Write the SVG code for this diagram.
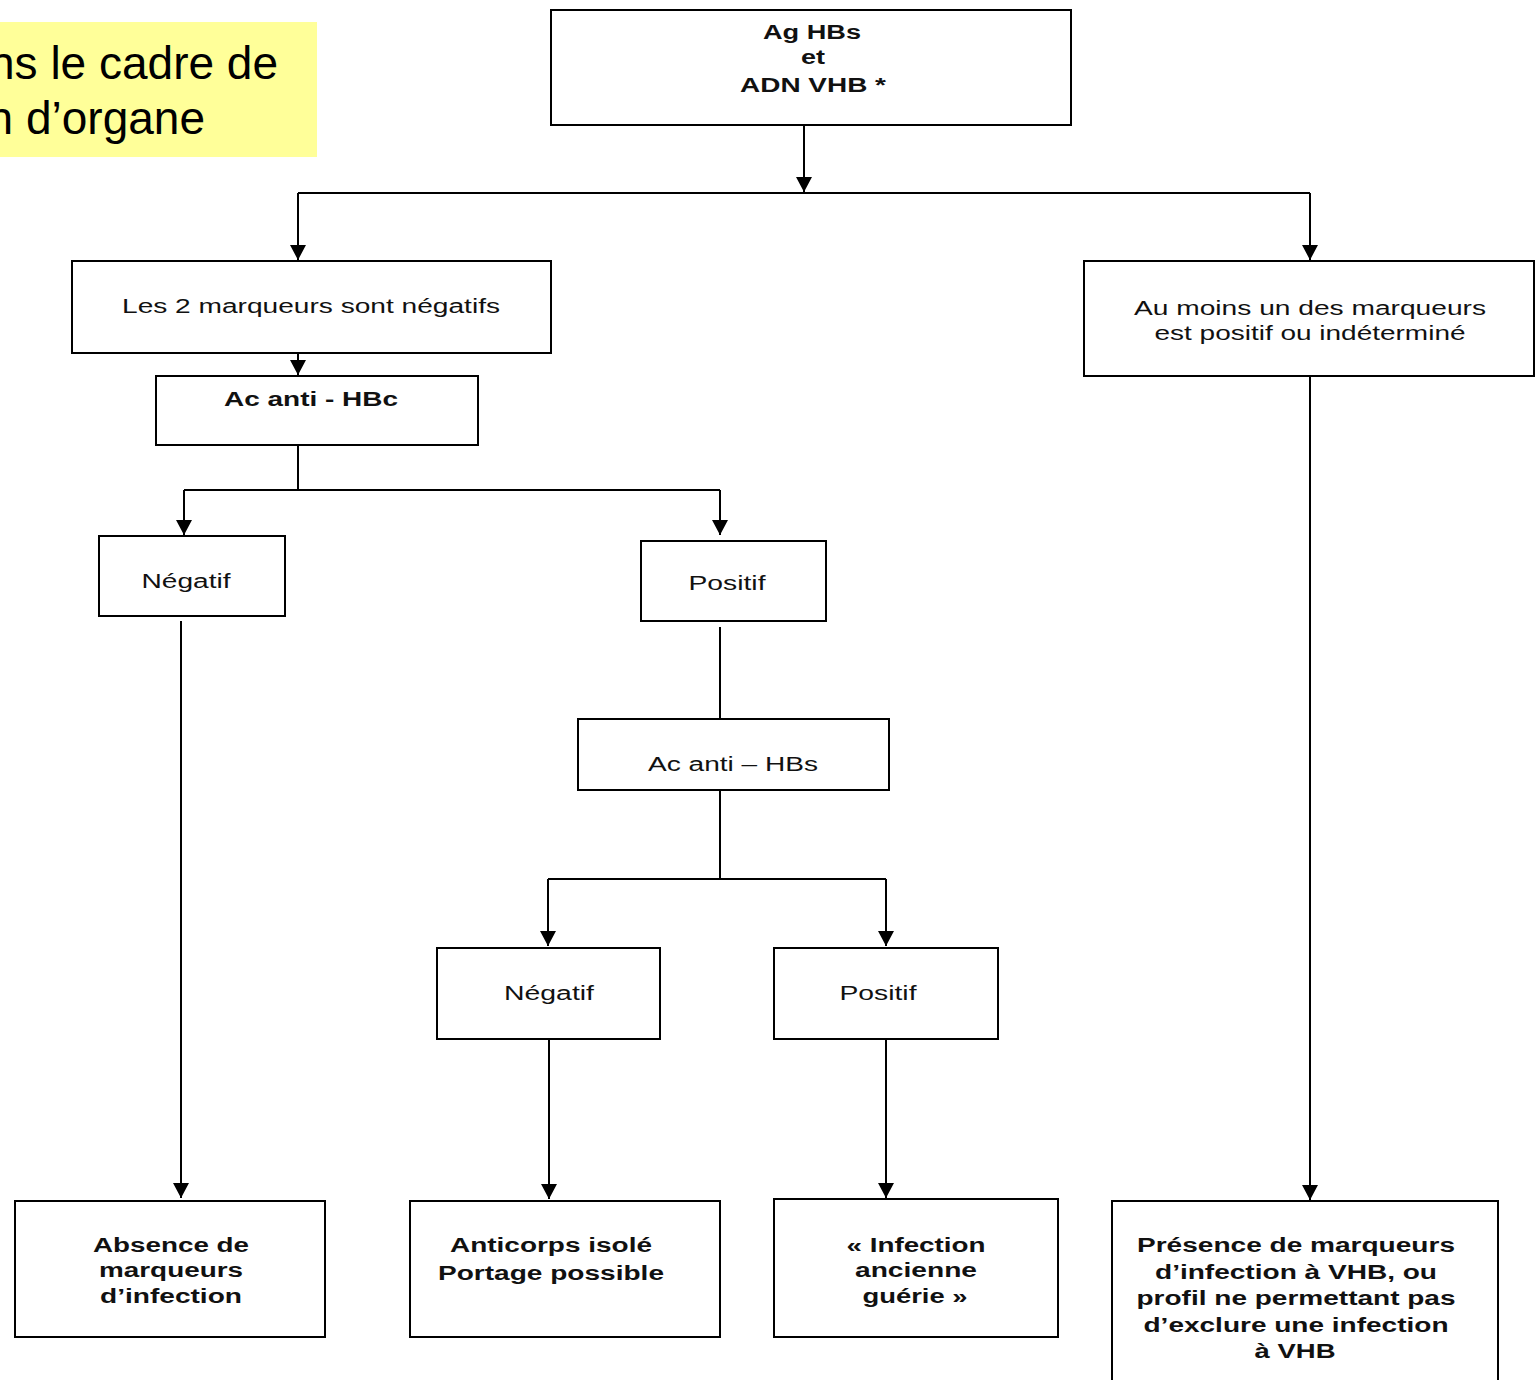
<svg xmlns="http://www.w3.org/2000/svg" width="1537" height="1380" viewBox="0 0 1537 1380">
<style>
.box{fill:#fff;stroke:#000;stroke-width:2}
.t{font-family:"Liberation Sans",Arial,sans-serif;font-size:20px;fill:#111;text-anchor:middle}
.b{font-weight:bold}
.c{fill:none;stroke:#000;stroke-width:2}
.big{font-family:"Liberation Sans",Arial,sans-serif;font-size:46px;fill:#000;text-anchor:end}
</style>
<defs>
<marker id="ah" viewBox="0 0 15 16" refX="15" refY="8" markerWidth="15" markerHeight="16" markerUnits="userSpaceOnUse" orient="auto">
<path d="M0,0 L15,8 L0,16 z" fill="#000"/>
</marker>
</defs>
<rect width="1537" height="1380" fill="#fff"/>
<g id="banner">
<rect x="0" y="22" width="317" height="135" fill="#ffff99"/>
<text class="big" x="278" y="79">ns le cadre de</text>
<text class="big" x="205" y="134">n d’organe</text>
</g>
<g id="connectors">
<path class="c" d="M804,125 V192" marker-end="url(#ah)"/>
<path class="c" d="M298,193 H1310"/>
<path class="c" d="M298,193 V260" marker-end="url(#ah)"/>
<path class="c" d="M1310,193 V260" marker-end="url(#ah)"/>
<path class="c" d="M298,353 V375" marker-end="url(#ah)"/>
<path class="c" d="M298,445 V490"/>
<path class="c" d="M184,490 H720"/>
<path class="c" d="M184,490 V535" marker-end="url(#ah)"/>
<path class="c" d="M720,490 V535" marker-end="url(#ah)"/>
<path class="c" d="M181,621 V1198" marker-end="url(#ah)"/>
<path class="c" d="M720,627 V719"/>
<path class="c" d="M720,790 V879"/>
<path class="c" d="M548,879 H886"/>
<path class="c" d="M548,879 V946" marker-end="url(#ah)"/>
<path class="c" d="M886,879 V946" marker-end="url(#ah)"/>
<path class="c" d="M549,1039 V1199" marker-end="url(#ah)"/>
<path class="c" d="M886,1039 V1198" marker-end="url(#ah)"/>
<path class="c" d="M1310,376 V1200" marker-end="url(#ah)"/>
</g>
<g id="n-top">
<rect class="box" x="551" y="10" width="520" height="115"/>
<text class="t b" x="812" y="39" textLength="98" lengthAdjust="spacingAndGlyphs">Ag HBs</text>
<text class="t b" x="813" y="64" textLength="24" lengthAdjust="spacingAndGlyphs">et</text>
<text class="t b" x="813" y="92" textLength="146" lengthAdjust="spacingAndGlyphs">ADN VHB *</text>
</g>
<g id="n-neg2">
<rect class="box" x="72" y="261" width="479" height="92"/>
<text class="t" x="311" y="313" textLength="378" lengthAdjust="spacingAndGlyphs">Les 2 marqueurs sont négatifs</text>
</g>
<g id="n-hbc">
<rect class="box" x="156" y="376" width="322" height="69"/>
<text class="t b" x="311" y="406" textLength="174" lengthAdjust="spacingAndGlyphs">Ac anti - HBc</text>
</g>
<g id="n-negatif1">
<rect class="box" x="99" y="536" width="186" height="80"/>
<text class="t" x="186" y="588" textLength="89" lengthAdjust="spacingAndGlyphs">Négatif</text>
</g>
<g id="n-positif1">
<rect class="box" x="641" y="541" width="185" height="80"/>
<text class="t" x="727" y="590" textLength="77" lengthAdjust="spacingAndGlyphs">Positif</text>
</g>
<g id="n-hbs">
<rect class="box" x="578" y="719" width="311" height="71"/>
<text class="t" x="733" y="771" textLength="170" lengthAdjust="spacingAndGlyphs">Ac anti – HBs</text>
</g>
<g id="n-negatif2">
<rect class="box" x="437" y="948" width="223" height="91"/>
<text class="t" x="549" y="1000" textLength="90" lengthAdjust="spacingAndGlyphs">Négatif</text>
</g>
<g id="n-positif2">
<rect class="box" x="774" y="948" width="224" height="91"/>
<text class="t" x="878" y="1000" textLength="77" lengthAdjust="spacingAndGlyphs">Positif</text>
</g>
<g id="n-aumoins">
<rect class="box" x="1084" y="261" width="450" height="115"/>
<text class="t" x="1310" y="315" textLength="352" lengthAdjust="spacingAndGlyphs">Au moins un des marqueurs</text>
<text class="t" x="1310" y="340" textLength="311" lengthAdjust="spacingAndGlyphs">est positif ou indéterminé</text>
</g>
<g id="n-absence">
<rect class="box" x="15" y="1201" width="310" height="136"/>
<text class="t b" x="171" y="1252" textLength="156" lengthAdjust="spacingAndGlyphs">Absence de</text>
<text class="t b" x="171" y="1277" textLength="144" lengthAdjust="spacingAndGlyphs">marqueurs</text>
<text class="t b" x="171" y="1303" textLength="142" lengthAdjust="spacingAndGlyphs">d’infection</text>
</g>
<g id="n-anticorps">
<rect class="box" x="410" y="1201" width="310" height="136"/>
<text class="t b" x="551" y="1252" textLength="202" lengthAdjust="spacingAndGlyphs">Anticorps isolé</text>
<text class="t b" x="551" y="1280" textLength="226" lengthAdjust="spacingAndGlyphs">Portage possible</text>
</g>
<g id="n-infection">
<rect class="box" x="774" y="1199" width="284" height="138"/>
<text class="t b" x="916" y="1252" textLength="139" lengthAdjust="spacingAndGlyphs">« Infection</text>
<text class="t b" x="916" y="1277" textLength="122" lengthAdjust="spacingAndGlyphs">ancienne</text>
<text class="t b" x="915" y="1303" textLength="105" lengthAdjust="spacingAndGlyphs">guérie »</text>
</g>
<g id="n-presence">
<rect class="box" x="1112" y="1201" width="386" height="190"/>
<text class="t b" x="1296" y="1252" textLength="318" lengthAdjust="spacingAndGlyphs">Présence de marqueurs</text>
<text class="t b" x="1296" y="1279" textLength="282" lengthAdjust="spacingAndGlyphs">d’infection à VHB, ou</text>
<text class="t b" x="1296" y="1305" textLength="319" lengthAdjust="spacingAndGlyphs">profil ne permettant pas</text>
<text class="t b" x="1296" y="1332" textLength="305" lengthAdjust="spacingAndGlyphs">d’exclure une infection</text>
<text class="t b" x="1295" y="1358" textLength="81" lengthAdjust="spacingAndGlyphs">à VHB</text>
</g>
</svg>
